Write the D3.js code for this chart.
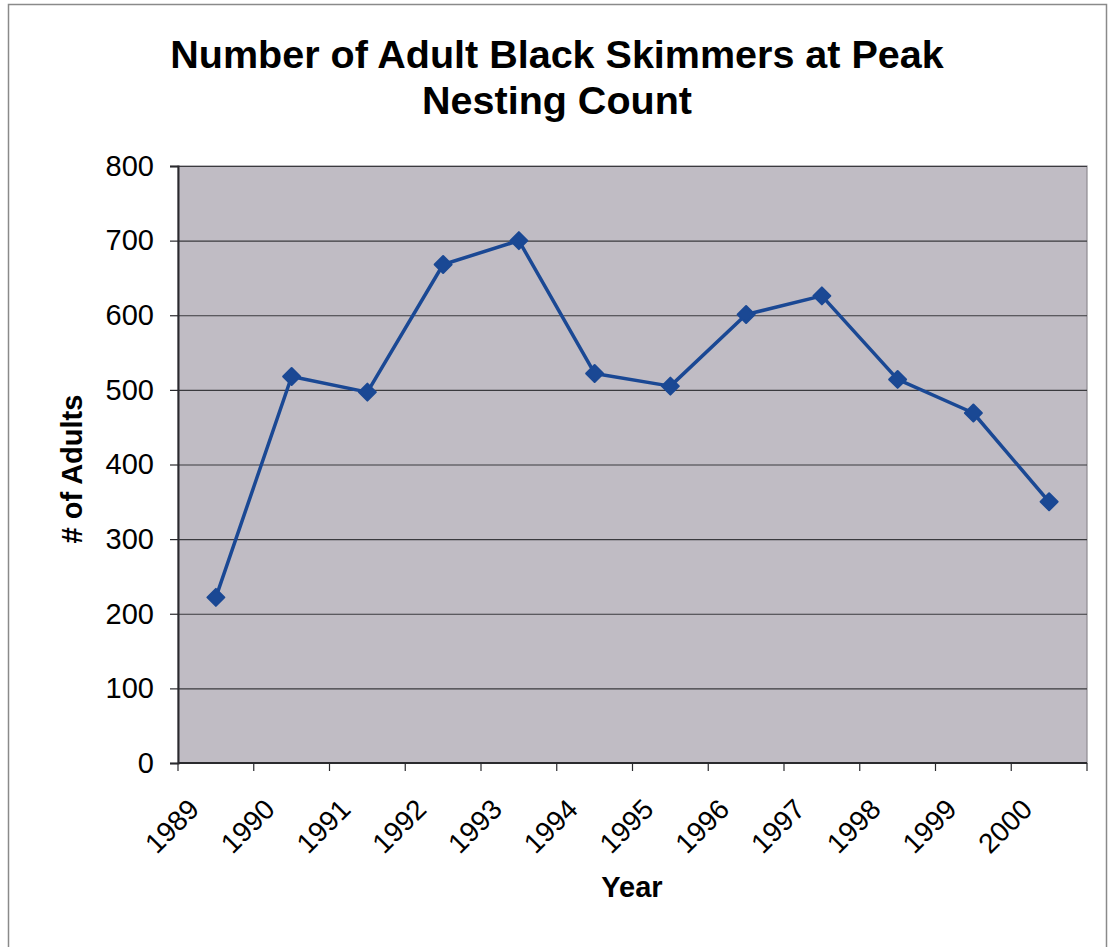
<!DOCTYPE html>
<html>
<head>
<meta charset="utf-8">
<script src="https://cdn.jsdelivr.net/npm/d3@7"></script>
<style>
  html, body { margin: 0; padding: 0; background: #ffffff; }
  svg { display: block; }
  text { font-family: "Liberation Sans", Arial, sans-serif; fill: #000; }
</style>
</head>
<body>
<svg id="chart" width="1109" height="947"></svg>
<script>
// Peak nesting counts of adult Black Skimmers, one value per year
const years = ["1989", "1990", "1991", "1992", "1993", "1994", "1995", "1996", "1997", "1998", "1999", "2000"];
const adults = [222, 518, 497, 668, 700, 522, 505, 601, 626, 514, 469, 350];
const yTicks = [0, 100, 200, 300, 400, 500, 600, 700, 800];
const titleLines = ["Number of Adult Black Skimmers at Peak", "Nesting Count"];

const W = 1109, H = 947;
const plot = { left: 178, right: 1087, top: 166, bottom: 763 };

const svg = d3.select("#chart");

// outer frame
svg.append("rect")
  .attr("x", 8.5).attr("y", 4.5)
  .attr("width", 1098).attr("height", 960)
  .attr("fill", "#ffffff")
  .attr("stroke", "#8a8a8a").attr("stroke-width", 1.5);

const x = d3.scaleBand().domain(years).range([plot.left, plot.right]).paddingInner(0).paddingOuter(0);
const y = d3.scaleLinear().domain([0, 800]).range([plot.bottom, plot.top]);

// plot background
svg.append("rect")
  .attr("x", plot.left).attr("y", plot.top)
  .attr("width", plot.right - plot.left).attr("height", plot.bottom - plot.top)
  .attr("fill", "#c0bcc4")
  .attr("stroke", "#8e8b92").attr("stroke-width", 1.2);

// horizontal gridlines
svg.append("g")
  .selectAll("line")
  .data(yTicks.filter(d => d > 0))
  .join("line")
  .attr("x1", plot.left).attr("x2", plot.right)
  .attr("y1", d => y(d) + 0.5).attr("y2", d => y(d) + 0.5)
  .attr("stroke", "#3a3a3e").attr("stroke-width", 1.2);

// y axis
const yAxis = svg.append("g")
  .attr("transform", `translate(${plot.left},0)`)
  .call(d3.axisLeft(y).tickValues(yTicks).tickSize(8).tickPadding(16));
yAxis.attr("font-size", null).attr("font-family", null);
yAxis.select(".domain").attr("stroke", "#2a2a2e").attr("stroke-width", 2);
yAxis.selectAll(".tick line").attr("stroke", "#2a2a2e").attr("stroke-width", 1.2);
yAxis.selectAll(".tick text")
  .style("font-size", "29px")
  .attr("fill", "#000");

// x axis: ticks on category boundaries
const edges = years.map(d => x(d)).concat([plot.right]);
const xAxis = svg.append("g");
xAxis.append("line")
  .attr("x1", plot.left).attr("x2", plot.right)
  .attr("y1", plot.bottom).attr("y2", plot.bottom)
  .attr("stroke", "#2a2a2e").attr("stroke-width", 2);
xAxis.selectAll("line.tick")
  .data(edges)
  .join("line")
  .attr("class", "tick")
  .attr("x1", d => d).attr("x2", d => d)
  .attr("y1", plot.bottom).attr("y2", plot.bottom + 8)
  .attr("stroke", "#2a2a2e").attr("stroke-width", 1.2);

const cx = d => x(d) + x.bandwidth() / 2;

xAxis.selectAll("text")
  .data(years)
  .join("text")
  .attr("transform", d => `translate(${cx(d) - 15},${plot.bottom + 48}) rotate(-45)`)
  .attr("text-anchor", "end")
  .style("font-size", "28px")
  .text(d => d);

// title
svg.append("text")
  .attr("x", 557).attr("text-anchor", "middle")
  .style("font-size", "39.5px").attr("font-weight", "bold")
  .selectAll("tspan")
  .data(titleLines)
  .join("tspan")
  .attr("x", 557)
  .attr("y", (d, i) => 68 + i * 46)
  .text(d => d);

// axis titles
svg.append("text")
  .attr("x", 632).attr("y", 897)
  .attr("text-anchor", "middle")
  .style("font-size", "29px").attr("font-weight", "bold")
  .text("Year");

svg.append("text")
  .attr("transform", `translate(82,469) rotate(-90)`)
  .attr("text-anchor", "middle")
  .style("font-size", "29px").attr("font-weight", "bold")
  .text("# of Adults");

// series line
const blue = "#1a4894";
const line = d3.line().x((d, i) => cx(years[i])).y(d => y(d));
svg.append("path")
  .datum(adults)
  .attr("d", line)
  .attr("fill", "none")
  .attr("stroke", blue)
  .attr("stroke-width", 3.5)
  .attr("stroke-linejoin", "round");

// diamond markers
svg.append("g")
  .selectAll("rect")
  .data(adults)
  .join("rect")
  .attr("x", -6).attr("y", -6)
  .attr("width", 12).attr("height", 12)
  .attr("transform", (d, i) => `translate(${cx(years[i])},${y(d)}) rotate(45)`)
  .attr("fill", blue)
  .attr("stroke", blue).attr("stroke-width", 2).attr("stroke-linejoin", "round");
</script>
</body>
</html>
